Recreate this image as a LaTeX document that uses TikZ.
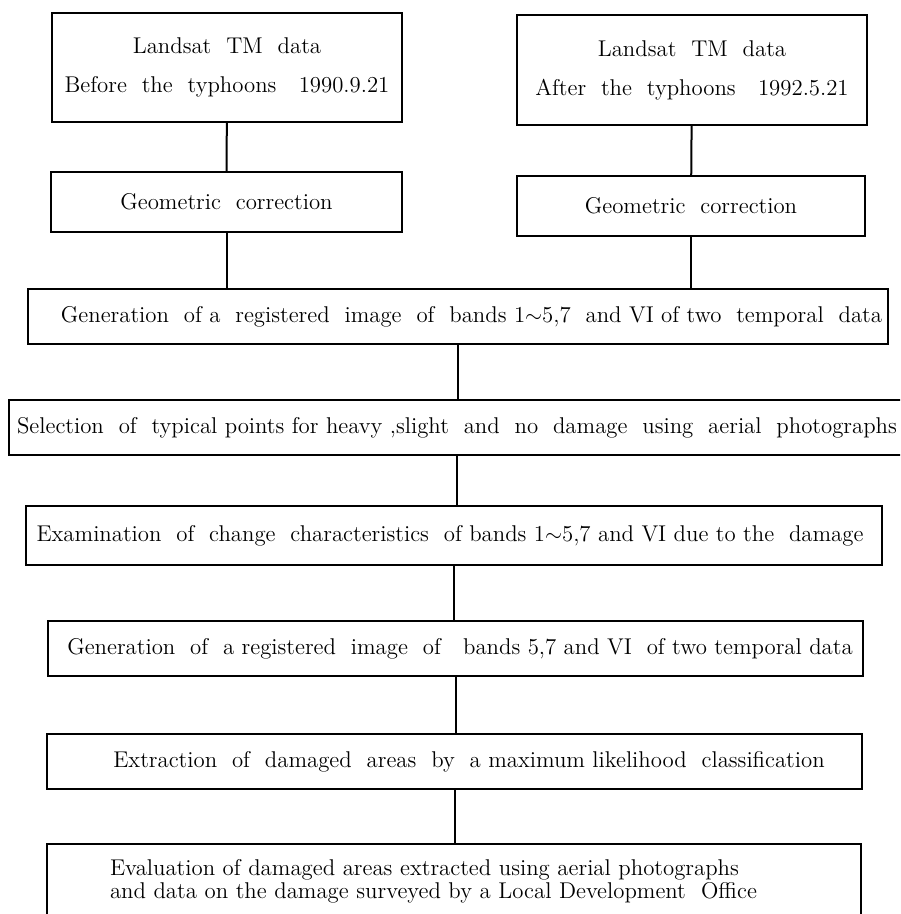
\documentclass[tikz,border=0pt]{standalone}
\usepackage{amsmath}
\usetikzlibrary{calc}

\tikzset{
  stepbox/.style={draw, line width=0.8pt, inner sep=0pt, align=center,
    font=\fontsize{11.4}{19.5}\selectfont},
  link/.style={line width=1pt}
}

\begin{document}
\begin{tikzpicture}[x=0.5pt,y=-0.5pt]
    \useasboundingbox (0,0) rectangle (900,914);
    \clip (0,0) rectangle (900,914);
    \node[stepbox, minimum width=175pt, minimum height=54.5pt] (before) at (227,67.5)
        {Landsat~ TM~ data\\Before~ the~ typhoons~~ 1990.9.21};
    \node[stepbox, minimum width=175pt, minimum height=55pt] (after) at (692,70)
        {Landsat~ TM~ data\\After~ the~ typhoons~~ 1992.5.21};
    \node[stepbox, minimum width=175.5pt, minimum height=30pt] (geoA) at (226.5,202)
        {Geometric~ correction};
    \node[stepbox, minimum width=174pt, minimum height=30pt] (geoB) at (691,206)
        {Geometric~ correction};
    \node[stepbox, minimum width=430pt, minimum height=27.5pt] (genall) at (458,316.5)
        {\hspace*{13.5pt}Generation~ of a~ registered~ image~ of~ bands 1$\sim$5,7~ and VI of two~ temporal~ data};
    \node[stepbox, minimum width=448pt, minimum height=27.5pt] (select) at (457,427.5)
        {Selection~ of~ typical points for heavy ,slight~ and~ no~ damage~ using~ aerial~ photographs};
    \node[stepbox, minimum width=428pt, minimum height=29.5pt] (exam) at (454,535.5)
        {Examination~ of~ change~ characteristics~ of bands 1$\sim$5,7 and VI due to the~ damage\hspace*{4pt}};
    \node[stepbox, minimum width=407.5pt, minimum height=27.5pt] (genfew) at (455.5,648.5)
        {\hspace*{4.5pt}Generation~ of~ a registered~ image~ of~~ bands 5,7 and VI~ of two temporal data};
    \node[stepbox, minimum width=407.5pt, minimum height=27.5pt] (extract) at (454.5,761.5)
        {\hspace*{14.5pt}Extraction~ of~ damaged~ areas~ by~ a maximum likelihood~ classification};
    \node[stepbox, align=left, anchor=north, minimum width=407pt, inner xsep=31.5pt,
        text width=344pt, inner ysep=8pt, text depth=30pt,
        font=\fontsize{11.4}{8.5}\selectfont] (evaluate) at (454,843)
        {Evaluation of damaged areas extracted using aerial photographs\\
         and data on the damage surveyed by a Local Development~ Office};
    \draw[link] (before) -- (geoA);
    \draw[link] (after) -- (geoB);
    \draw[link] (geoA) -- (geoA.south |- genall.north);
    \draw[link] (geoB) -- (geoB.south |- genall.north);
    \draw[link] (genall) -- (genall.south |- select.north);
    \draw[link] (select) -- (select.south |- exam.north);
    \draw[link] (exam) -- (exam.south |- genfew.north);
    \draw[link] (genfew) -- (genfew.south |- extract.north);
    \draw[link] (extract) -- (extract.south |- evaluate.north);
\end{tikzpicture}
\end{document}
